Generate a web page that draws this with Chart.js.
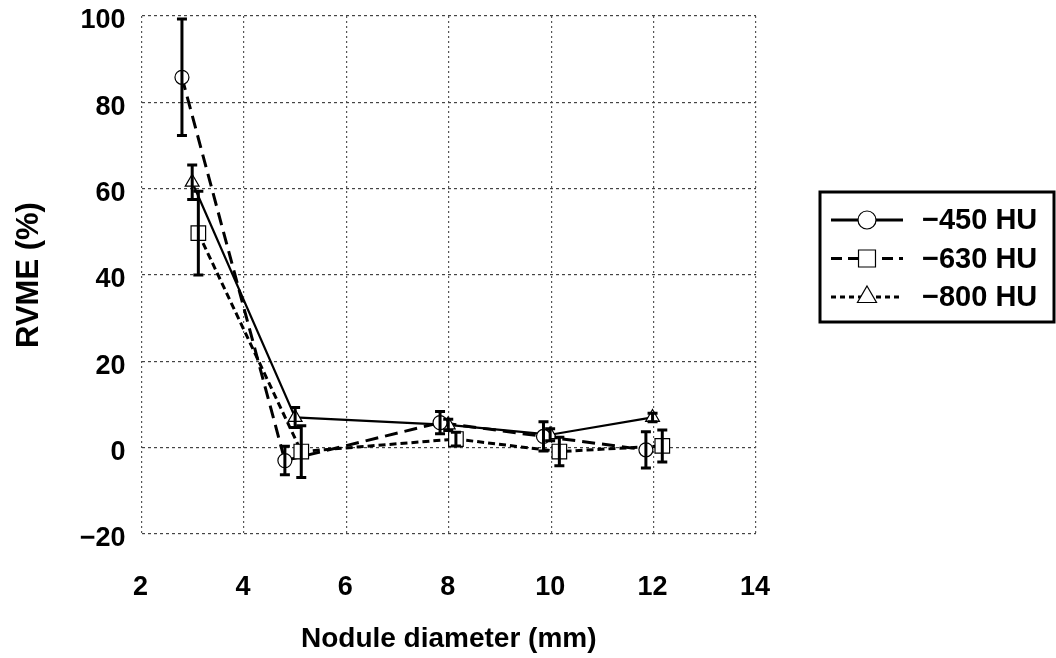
<!DOCTYPE html>
<html>
<head>
<meta charset="utf-8">
<script src="https://cdn.jsdelivr.net/npm/chart.js@4.4.1/dist/chart.umd.min.js"></script>
<style>
html, body { margin: 0; padding: 0; background: #fff; }
#wrap { width: 1056px; height: 658px; }
</style>
</head>
<body>
<div id="wrap"><canvas id="chartRVME" width="1056" height="658"></canvas></div>
<script>
var seriesLabels = ["\u2212450 HU", "\u2212630 HU", "\u2212800 HU"];
var xTicks = [2, 4, 6, 8, 10, 12, 14];
var yTicks = [-20, 0, 20, 40, 60, 80, 100];

// -450 HU (circles)
var hu450X   = [2.79, 4.80, 7.83, 9.85, 11.85];
var hu450Y   = [85.8, -3.0, 5.8, 2.6, -0.5];
var hu450Err = [13.5, 3.3, 2.6, 3.4, 4.2];

// -630 HU (squares)
var hu630X   = [3.11, 5.12, 8.14, 10.16, 12.17];
var hu630Y   = [49.7, -0.9, 2.0, -0.9, 0.4];
var hu630Err = [9.7, 6.0, 1.6, 3.3, 3.7];

// -800 HU (triangles)
var hu800X   = [2.99, 5.00, 7.99, 9.98, 11.98];
var hu800Y   = [61.5, 7.0, 5.3, 3.0, 7.0];
var hu800Err = [4.0, 2.3, 1.3, 1.4, 1.0];

var FONT = "'Liberation Sans', Arial, sans-serif";

function pts(xs, ys) {
	return xs.map(function(x, i) { return { x: x, y: ys[i] }; });
}

function minusSign(v) {
	return String(v).replace("-", "\u2212");
}

function drawMarker(ctx, style, x, y, r) {
	ctx.beginPath();
	if (style === "circle") {
		ctx.arc(x, y, r, 0, Math.PI * 2);
	} else if (style === "rect") {
		var s = r * Math.SQRT1_2;
		ctx.rect(x - s, y - s, 2 * s, 2 * s);
	} else {
		var a = Math.PI * 2 / 3;
		ctx.moveTo(x, y - r);
		ctx.lineTo(x + Math.sin(a) * r, y - Math.cos(a) * r);
		ctx.lineTo(x - Math.sin(a) * r, y - Math.cos(a) * r);
		ctx.closePath();
	}
	ctx.fillStyle = "#fff";
	ctx.fill();
	ctx.lineWidth = 1.2;
	ctx.strokeStyle = "#000";
	ctx.setLineDash([]);
	ctx.stroke();
}

var errorBarPlugin = {
	id: "errorBars",
	afterDatasetsDraw: function(chart) {
		var ctx = chart.ctx, yScale = chart.scales.y;
		ctx.save();
		ctx.strokeStyle = "#000";
		ctx.lineWidth = 3;
		ctx.setLineDash([]);
		chart.data.datasets.forEach(function(ds, di) {
			if (!ds.errors) return;
			var meta = chart.getDatasetMeta(di);
			meta.data.forEach(function(pt, i) {
				var v = ds.data[i].y, e = ds.errors[i];
				var x = pt.x;
				var hi = yScale.getPixelForValue(v + e);
				var lo = yScale.getPixelForValue(v - e);
				ctx.beginPath();
				ctx.moveTo(x, hi); ctx.lineTo(x, lo);
				ctx.moveTo(x - 5, hi); ctx.lineTo(x + 5, hi);
				ctx.moveTo(x - 5, lo); ctx.lineTo(x + 5, lo);
				ctx.stroke();
			});
		});
		ctx.restore();
	}
};

// legend as in the figure: solid/circle, long dash/square, short dash/triangle
var legendStyles = [
	{ dash: [], marker: "circle", r: 9 },
	{ dash: [11, 6], marker: "rect", r: 12 },
	{ dash: [5, 4], marker: "triangle", r: 11 }
];

var boxLegendPlugin = {
	id: "boxLegend",
	afterDraw: function(chart) {
		var ctx = chart.ctx;
		var left = chart.chartArea.right + 64, top = 192, w = 234, h = 130;
		ctx.save();
		ctx.lineWidth = 3;
		ctx.strokeStyle = "#000";
		ctx.setLineDash([]);
		ctx.strokeRect(left, top, w, h);
		legendStyles.forEach(function(st, i) {
			var y = top + 28 + i * 38.5;
			ctx.beginPath();
			ctx.setLineDash(st.dash);
			ctx.lineWidth = 3;
			ctx.moveTo(left + 11, y);
			ctx.lineTo(left + 83, y);
			ctx.stroke();
			drawMarker(ctx, st.marker, left + 47, y, st.r);
			ctx.fillStyle = "#000";
			ctx.font = "bold 29px " + FONT;
			ctx.textAlign = "left";
			ctx.textBaseline = "middle";
			ctx.fillText(seriesLabels[i], left + 102, y + 1);
		});
		ctx.restore();
	}
};

function lineSet(data, dash, width) {
	return {
		data: data, borderColor: "#000", borderWidth: width, borderDash: dash,
		pointRadius: 0, fill: false, tension: 0, order: 2
	};
}

function markerSet(label, data, errors, style, radius) {
	return {
		label: label, data: data, errors: errors, showLine: false,
		pointStyle: style, pointRadius: radius, pointBorderWidth: 1.2,
		pointBackgroundColor: "#fff", pointBorderColor: "#000", order: 1
	};
}

var chart = new Chart(document.getElementById("chartRVME"), {
	type: "line",
	data: {
		datasets: [
			lineSet(pts(hu450X, hu450Y), [13, 7], 3),
			lineSet(pts(hu630X, hu630Y), [7, 4], 3),
			lineSet(pts(hu800X, hu800Y), [], 2.2),
			markerSet(seriesLabels[0], pts(hu450X, hu450Y), hu450Err, "circle", 7),
			markerSet(seriesLabels[1], pts(hu630X, hu630Y), hu630Err, "rect", 10.3),
			markerSet(seriesLabels[2], pts(hu800X, hu800Y), hu800Err, "triangle", 8)
		]
	},
	plugins: [errorBarPlugin, boxLegendPlugin],
	options: {
		responsive: false,
		animation: false,
		layout: { padding: { top: 16, right: 300, bottom: 0, left: 0 } },
		plugins: { legend: { display: false }, tooltip: { enabled: false } },
		scales: {
			x: {
				type: "linear",
				min: xTicks[0], max: xTicks[xTicks.length - 1],
				afterBuildTicks: function(scale) {
					scale.ticks = xTicks.map(function(v) { return { value: v }; });
				},
				afterFit: function(scale) {
					scale.height = 124;
					scale.paddingLeft = 0;
					scale.paddingRight = 0;
				},
				grid: { color: "#555", lineWidth: 1.2, drawTicks: false },
				border: { display: false, dash: [2, 3] },
				ticks: {
					color: "#000", padding: 37, labelOffset: -1,
					font: { family: FONT, size: 27, weight: "bold" }
				},
				title: {
					display: true, text: "Nodule diameter (mm)", color: "#000",
					padding: { top: 0, bottom: 2 },
					font: { family: FONT, size: 28, weight: "bold" }
				}
			},
			y: {
				min: yTicks[0], max: yTicks[yTicks.length - 1],
				afterBuildTicks: function(scale) {
					scale.ticks = yTicks.map(function(v) { return { value: v }; });
				},
				afterFit: function(scale) {
					scale.width = 141.5;
					scale.paddingTop = 0;
					scale.paddingBottom = 0;
				},
				grid: { color: "#444", lineWidth: 1.2, drawTicks: false },
				border: { display: false, dash: [3, 3] },
				ticks: {
					color: "#000", padding: 16, labelOffset: 5,
					font: { family: FONT, size: 27, weight: "bold" },
					callback: function(v) { return minusSign(v); }
				},
				title: {
					display: true, text: "RVME (%)", color: "#000",
					padding: { top: 11, bottom: 0 },
					font: { family: FONT, size: 31, weight: "bold" }
				}
			}
		}
	}
});
</script>
</body>
</html>
